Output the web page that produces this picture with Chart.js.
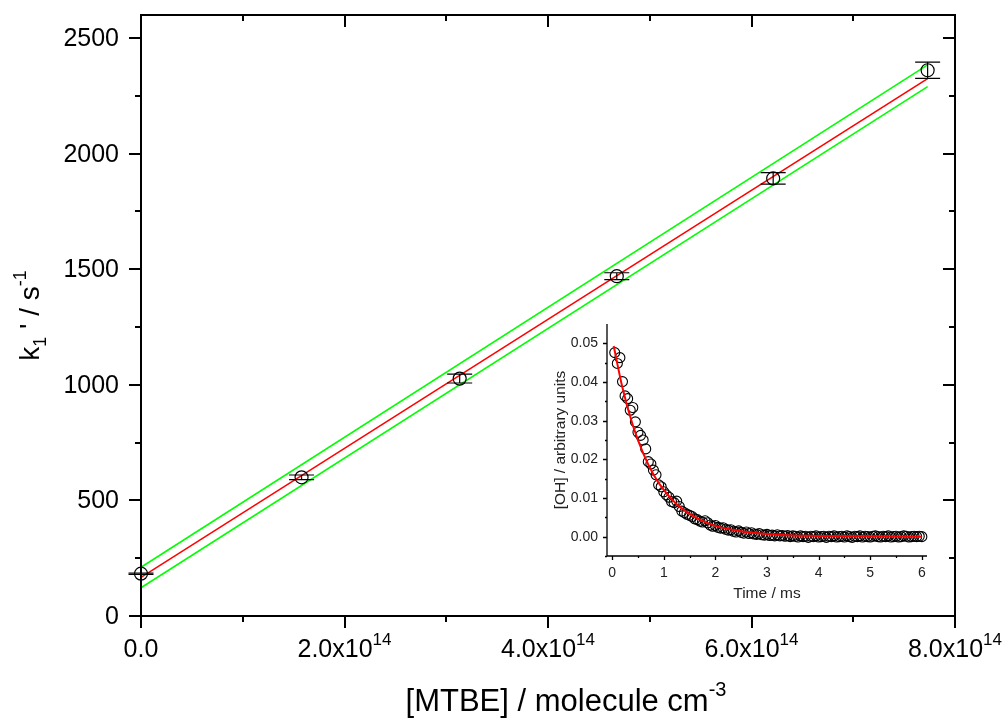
<!DOCTYPE html>
<html><head><meta charset="utf-8">
<script src="https://cdn.jsdelivr.net/npm/chart.js@4"></script>
<style>
html,body{margin:0;padding:0;background:#fff;}
#wrap{position:relative;width:1005px;height:720px;background:#fff;}
#main{position:absolute;left:0;top:0;}
#inset{position:absolute;left:540px;top:310px;}
</style></head><body>
<div id="wrap">
<canvas id="main" width="1005" height="720"></canvas>
<canvas id="inset" width="400" height="300"></canvas>
</div>
<script>
// ---- main plot data ----
const concentrations = [0, 1.578e14, 3.132e14, 4.676e14, 6.213e14, 7.731e14];
const rates = [183, 600, 1027, 1470, 1893, 2361];
const rateErrors = [3, 10, 19, 15, 25, 35];
const fitX = [0, 7.731e14];
const fitLine = [167, 2325];
const confUpper = [211, 2384];
const confLower = [122, 2290];
const xMajorTicks = [0, 2e14, 4e14, 6e14, 8e14];
const xMinorTicks = [1e14, 3e14, 5e14, 7e14];
const xTickMantissas = ['0.0', '2.0', '4.0', '6.0', '8.0'];
const xTickExponents = ['', '14', '14', '14', '14'];
const yMajorTicks = [0, 500, 1000, 1500, 2000, 2500];
const yMinorTicks = [250, 750, 1250, 1750, 2250];

// ---- inset data ----
const decayTimes = [0.05,0.10,0.15,0.20,0.25,0.30,0.35,0.40,0.45,0.50,0.55,0.60,0.65,0.70,0.75,0.80,0.85,0.90,0.95,1.00,
1.05,1.10,1.15,1.20,1.25,1.30,1.35,1.40,1.45,1.50,1.55,1.60,1.65,1.70,1.75,1.80,1.85,1.90,1.95,2.00,
2.05,2.10,2.15,2.20,2.25,2.30,2.35,2.40,2.45,2.50,2.55,2.60,2.65,2.70,2.75,2.80,2.85,2.90,2.95,3.00,
3.05,3.10,3.15,3.20,3.25,3.30,3.35,3.40,3.45,3.50,3.55,3.60,3.65,3.70,3.75,3.80,3.85,3.90,3.95,4.00,
4.05,4.10,4.15,4.20,4.25,4.30,4.35,4.40,4.45,4.50,4.55,4.60,4.65,4.70,4.75,4.80,4.85,4.90,4.95,5.00,
5.05,5.10,5.15,5.20,5.25,5.30,5.35,5.40,5.45,5.50,5.55,5.60,5.65,5.70,5.75,5.80,5.85,5.90,5.95,6.00];
const decayOH = [0.0476,0.0448,0.0463,0.0401,0.0364,0.0357,0.0327,0.0334,0.0297,0.0270,0.0262,0.0250,0.0227,0.0194,0.0188,0.0172,0.0160,0.0134,0.0129,0.0116,
0.0108,0.0102,0.0091,0.0088,0.0092,0.0078,0.0066,0.0062,0.0058,0.0055,0.0052,0.0046,0.0044,0.0040,0.0038,0.0041,0.0036,0.0030,0.0027,0.0029,
0.0024,0.0022,0.0023,0.0019,0.0017,0.0018,0.0014,0.0012,0.0015,0.0011,0.0009,0.0012,0.0008,0.0010,0.0007,0.0006,0.0008,0.0005,0.0004,0.0006,
0.0003,0.0004,0.0002,0.0005,0.0002,0.0003,0.0001,0.0003,0.0000,0.0002,0.0001,-0.0001,0.0002,0.0000,0.0001,-0.0002,0.0001,0.0000,0.0002,-0.0001,
0.0000,0.0001,-0.0002,0.0001,0.0000,0.0002,-0.0001,0.0000,0.0001,-0.0001,0.0002,0.0000,-0.0002,0.0001,0.0000,0.0002,-0.0001,0.0001,0.0000,-0.0001,
0.0001,0.0002,0.0000,-0.0001,0.0001,0.0000,0.0002,-0.0001,0.0000,0.0001,-0.0001,0.0000,0.0002,0.0001,-0.0001,0.0000,0.0001,0.0000,0.0001,0.0000];
const decayFitTimes = [0.03,0.2,0.4,0.6,0.8,1.0,1.25,1.5,1.75,2.0,2.5,3.0,3.5,4.0,5.0,6.0];
const decayFitOH = [0.0493,0.0385,0.0288,0.0216,0.0161,0.0121,0.0084,0.0059,0.0041,0.0028,0.0014,0.0007,0.0003,0.0002,0.0001,0.0000];
const insetXMajor = [0,1,2,3,4,5,6];
const insetXMinor = [0.5,1.5,2.5,3.5,4.5,5.5];
const insetYMajor = [0,0.01,0.02,0.03,0.04,0.05];
const insetYMinor = [-0.005,0.005,0.015,0.025,0.035,0.045];

const FONT = '"Liberation Sans", Arial, Helvetica, sans-serif';

function drawRuns(ctx, runs) {
  let x = 0;
  for (const r of runs) {
    ctx.font = r.size + 'px ' + FONT;
    ctx.fillText(r.t, x, r.dy || 0);
    x += ctx.measureText(r.t).width;
  }
  return x;
}
function runsWidth(ctx, runs) {
  let w = 0;
  for (const r of runs) { ctx.font = r.size + 'px ' + FONT; w += ctx.measureText(r.t).width; }
  return w;
}

const mainPlugin = {
  id: 'mainPlugin',
  afterDatasetsDraw(chart) {
    const ctx = chart.ctx, xs = chart.scales.x, ys = chart.scales.y;
    ctx.save();
    ctx.strokeStyle = '#000';
    ctx.lineWidth = 1.2;
    concentrations.forEach((c, i) => {
      const px = xs.getPixelForValue(c);
      const pt = ys.getPixelForValue(rates[i] + rateErrors[i]);
      const pb = ys.getPixelForValue(rates[i] - rateErrors[i]);
      ctx.beginPath();
      ctx.moveTo(px, pt); ctx.lineTo(px, pb);
      ctx.moveTo(px - 12.5, pt); ctx.lineTo(px + 12.5, pt);
      ctx.moveTo(px - 12.5, pb); ctx.lineTo(px + 12.5, pb);
      ctx.stroke();
    });
    ctx.restore();
  },
  afterDraw(chart) {
    const ctx = chart.ctx, a = chart.chartArea, xs = chart.scales.x, ys = chart.scales.y;
    ctx.save();
    ctx.strokeStyle = '#000';
    ctx.lineWidth = 2;
    ctx.strokeRect(a.left, a.top, a.right - a.left, a.bottom - a.top);
    ctx.beginPath();
    const yt = (v, len) => {
      const py = Math.round(ys.getPixelForValue(v));
      ctx.moveTo(a.left, py); ctx.lineTo(a.left - len, py);
      ctx.moveTo(a.right, py); ctx.lineTo(a.right - len, py);
    };
    yMajorTicks.forEach(v => yt(v, 12));
    yMinorTicks.forEach(v => yt(v, 6));
    const xt = (v, len) => {
      const px = Math.round(xs.getPixelForValue(v));
      ctx.moveTo(px, a.bottom); ctx.lineTo(px, a.bottom + len);
      ctx.moveTo(px, a.top); ctx.lineTo(px, a.top + len);
    };
    xMajorTicks.forEach(v => xt(v, 12));
    xMinorTicks.forEach(v => xt(v, 6));
    ctx.stroke();

    ctx.fillStyle = '#000';
    ctx.font = '25px ' + FONT;
    ctx.textAlign = 'right';
    ctx.textBaseline = 'middle';
    yMajorTicks.forEach(v => ctx.fillText(String(v), a.left - 22, ys.getPixelForValue(v) + 1));
    ctx.textAlign = 'left';
    ctx.textBaseline = 'alphabetic';
    xMajorTicks.forEach((v, i) => {
      const runs = [{t: xTickMantissas[i] + (xTickExponents[i] ? 'x10' : ''), size: 25, dy: 0}];
      if (xTickExponents[i]) runs.push({t: xTickExponents[i], size: 17, dy: -12});
      const w = runsWidth(ctx, runs);
      ctx.save();
      ctx.translate(xs.getPixelForValue(v) - w / 2, 657);
      drawRuns(ctx, runs);
      ctx.restore();
    });
    const xRuns = [{t: '[MTBE] / molecule cm', size: 31, dy: 0}, {t: '-3', size: 20, dy: -15}];
    const xw = runsWidth(ctx, xRuns);
    ctx.save();
    ctx.translate((a.left + a.right) / 2 - xw / 2 + 18, 711);
    drawRuns(ctx, xRuns);
    ctx.restore();
    const yRuns = [{t: 'k', size: 28, dy: 0}, {t: '1', size: 18, dy: 7}, {t: " ' / s", size: 28, dy: 0}, {t: '-1', size: 18, dy: -13}];
    const yw = runsWidth(ctx, yRuns);
    ctx.save();
    ctx.translate(39, (a.top + a.bottom) / 2);
    ctx.rotate(-Math.PI / 2);
    ctx.translate(-yw / 2, 0);
    drawRuns(ctx, yRuns);
    ctx.restore();
    ctx.restore();
  }
};

const line2 = (ys) => fitX.map((x, i) => ({x, y: ys[i]}));

new Chart(document.getElementById('main'), {
  type: 'scatter',
  data: {
    datasets: [
      {data: concentrations.map((x, i) => ({x, y: rates[i]})), showLine: false, pointStyle: 'circle', pointRadius: 6.5,
       borderColor: '#000', backgroundColor: 'rgba(0,0,0,0)', borderWidth: 1.2, clip: false},
      {data: line2(fitLine), showLine: true, borderColor: '#ff0000', borderWidth: 1.6, pointRadius: 0},
      {data: line2(confUpper), showLine: true, borderColor: '#00ff00', borderWidth: 1.6, pointRadius: 0},
      {data: line2(confLower), showLine: true, borderColor: '#00ff00', borderWidth: 1.6, pointRadius: 0}
    ]
  },
  options: {
    responsive: false, animation: false, devicePixelRatio: 1,
    layout: {padding: {left: 141, right: 50, top: 15, bottom: 104}},
    plugins: {legend: {display: false}, tooltip: {enabled: false}},
    scales: {
      x: {type: 'linear', min: 0, max: 8e14, display: false},
      y: {type: 'linear', min: 0, max: 2600, display: false}
    }
  },
  plugins: [mainPlugin]
});

const insetPlugin = {
  id: 'insetPlugin',
  afterDraw(chart) {
    const ctx = chart.ctx, a = chart.chartArea, xs = chart.scales.x, ys = chart.scales.y;
    ctx.save();
    ctx.strokeStyle = '#000';
    ctx.lineWidth = 1.3;
    ctx.beginPath();
    ctx.moveTo(a.left, a.top); ctx.lineTo(a.left, a.bottom); ctx.lineTo(a.right, a.bottom);
    const yt = (v, len) => { const py = Math.round(ys.getPixelForValue(v)) + 0.5; ctx.moveTo(a.left, py); ctx.lineTo(a.left - len, py); };
    insetYMajor.forEach(v => yt(v, 4));
    insetYMinor.forEach(v => yt(v, 2));
    const xt = (v, len) => { const px = Math.round(xs.getPixelForValue(v)) + 0.5; ctx.moveTo(px, a.bottom); ctx.lineTo(px, a.bottom + len); };
    insetXMajor.forEach(v => xt(v, 4));
    insetXMinor.forEach(v => xt(v, 2));
    ctx.stroke();
    ctx.fillStyle = '#222';
    ctx.font = '14px ' + FONT;
    ctx.textAlign = 'right'; ctx.textBaseline = 'middle';
    insetYMajor.forEach(v => ctx.fillText(v.toFixed(2), a.left - 9, ys.getPixelForValue(v)));
    ctx.textAlign = 'center';
    insetXMajor.forEach(v => ctx.fillText(String(v), xs.getPixelForValue(v), a.bottom + 17));
    ctx.font = '15.5px ' + FONT;
    ctx.fillText('Time / ms', (a.left + a.right) / 2, a.bottom + 38);
    ctx.save();
    ctx.translate(25, (a.top + a.bottom) / 2);
    ctx.rotate(-Math.PI / 2);
    ctx.textBaseline = 'alphabetic';
    ctx.fillText('[OH] / arbitrary units', 0, 0);
    ctx.restore();
    ctx.restore();
  }
};

new Chart(document.getElementById('inset'), {
  type: 'scatter',
  data: {
    datasets: [
      {data: decayFitTimes.map((x, i) => ({x, y: decayFitOH[i]})), showLine: true, borderColor: '#ff0000', borderWidth: 2,
       pointRadius: 0, cubicInterpolationMode: 'monotone'},
      {data: decayTimes.map((x, i) => ({x, y: decayOH[i]})), showLine: false, pointStyle: 'circle', pointRadius: 5,
       borderColor: '#000', backgroundColor: 'rgba(0,0,0,0)', borderWidth: 1.1, clip: false}
    ]
  },
  options: {
    responsive: false, animation: false, devicePixelRatio: 1,
    layout: {padding: {left: 67, right: 13, top: 14, bottom: 54}},
    plugins: {legend: {display: false}, tooltip: {enabled: false}},
    scales: {
      x: {type: 'linear', min: -0.1, max: 6.1, display: false},
      y: {type: 'linear', min: -0.005, max: 0.055, display: false}
    }
  },
  plugins: [insetPlugin]
});
</script>
</body></html>
